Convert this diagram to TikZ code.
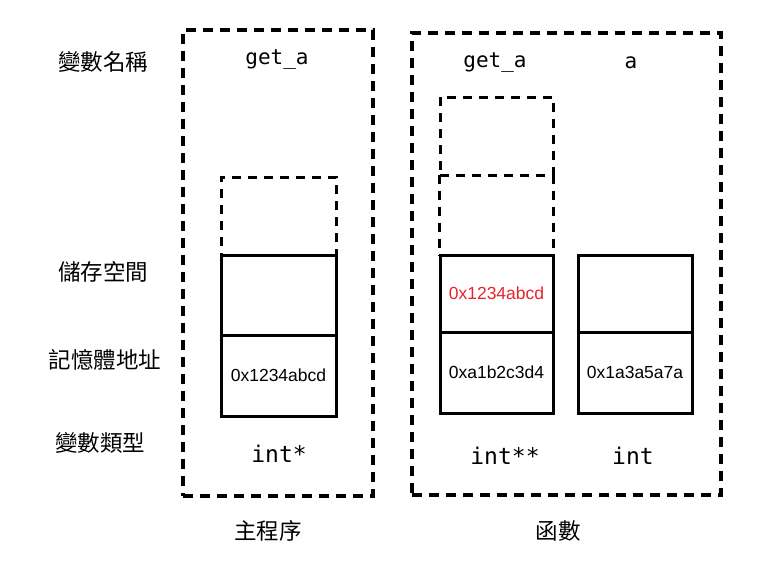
\documentclass[tikz,border=0pt]{standalone}
\usepackage{fontspec}
\usetikzlibrary{positioning}
\newfontfamily\cjkfont{Noto Sans CJK TC}
\newfontfamily\codefont{DejaVu Sans Mono}
\newfontfamily\addrfont{Liberation Sans}
\definecolor{addrred}{HTML}{E8232A}
\tikzset{
  frame/.style={draw, dash pattern=on 10pt off 7pt, line width=3.2pt, inner sep=0pt},
  ghostcell/.style={draw, dash pattern=on 9pt off 7pt, line width=3pt, inner sep=0pt},
  ghostline/.style={dash pattern=on 9pt off 7pt, line width=3pt},
  cell/.style={draw, line width=3pt, inner sep=0pt},
  rowlab/.style={font=\cjkfont\fontsize{22.5}{26}\selectfont},
  varname/.style={font=\codefont\fontsize{21}{25}\selectfont},
  vartype/.style={font=\codefont\fontsize{23}{27}\selectfont},
  addr/.style={font=\addrfont\fontsize{17.5}{21}\selectfont},
}
\begin{document}
\begin{tikzpicture}[x=1pt,y=-1pt]
  \useasboundingbox (0,0) rectangle (760,582);
  % row titles
  \node[rowlab] (tname) at (103,62) {變數名稱};
  \node[rowlab] (tstore) at (103,272) {儲存空間};
  \node[rowlab] (taddr) at (105,360) {記憶體地址};
  \node[rowlab] (ttype) at (100,443) {變數類型};
  % the two scopes
  \node[frame, minimum width=190pt, minimum height=466pt] (mainf) at (278,263) {};
  \node[frame, minimum width=309pt, minimum height=462pt] (funcf) at (566.5,264) {};
  \node[rowlab] (mainlab) at (268,531) {主程序};
  \node[rowlab] (funclab) at (558,531) {函數};
  % main: get_a
  \node[varname] (mname) at (277,60) {get\_a};
  \node[ghostcell, minimum width=115pt, minimum height=78pt] (mg1) at (278.5,216) {};
  \node[cell, minimum width=115pt, minimum height=80pt] (mval) at (278.5,295) {};
  \node[cell, minimum width=115pt, minimum height=81pt, addr] (maddr) at (278.5,375.5) {0x1234abcd};
  \node[vartype] (mtype) at (279,454) {int*};
  % function: get_a
  \node[varname] (fname) at (495,63) {get\_a};
  \node[ghostcell, minimum width=113pt, minimum height=78pt] (fg1) at (496.5,136) {};
  \node[inner sep=0pt, minimum width=113pt, minimum height=80pt] (fg2) at (496.5,215) {};
  \draw[ghostline] (fg2.north west) -- (fg2.south west) (fg2.north east) -- (fg2.south east);
  \node[cell, minimum width=113pt, minimum height=77pt, addr, text=addrred] (fval) at (496.5,293.5) {0x1234abcd};
  \node[cell, minimum width=113pt, minimum height=81pt, addr] (faddr) at (496.5,372.5) {0xa1b2c3d4};
  \node[vartype] (ftype) at (505,456) {int**};
  % function: a
  \node[varname] (aname) at (631,63) {a};
  \node[cell, minimum width=114pt, minimum height=77pt] (aval) at (635,293.5) {};
  \node[cell, minimum width=114pt, minimum height=81pt, addr] (aaddr) at (635,372.5) {0x1a3a5a7a};
  \node[vartype] (atype) at (633,456) {int};
\end{tikzpicture}
\end{document}
